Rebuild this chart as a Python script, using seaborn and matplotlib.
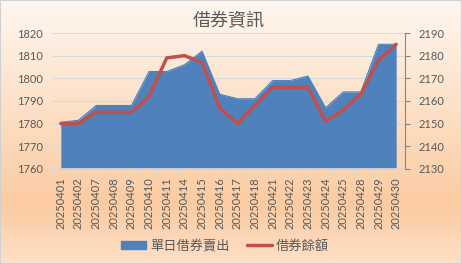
import numpy as np
import pandas as pd
import matplotlib
matplotlib.use('Agg')
import matplotlib.pyplot as plt
import seaborn as sns
from matplotlib.colors import LinearSegmentedColormap
from matplotlib.patches import Patch, Rectangle
from matplotlib.lines import Line2D

# ---- data ----
dates = ['20250401', '20250402', '20250407', '20250408', '20250409', '20250410',
         '20250411', '20250414', '20250415', '20250416', '20250417', '20250418',
         '20250421', '20250422', '20250423', '20250424', '20250425', '20250428',
         '20250429', '20250430']
short_sell = [1780.6, 1781.5, 1788, 1788, 1788, 1803, 1803, 1806, 1812, 1793,
              1791, 1791, 1799, 1799, 1801, 1787, 1794, 1794, 1815, 1815]
balance = [2150, 2150, 2155, 2155, 2155, 2162, 2179, 2180, 2177, 2157,
           2150, 2158, 2166, 2166, 2166, 2151, 2156, 2163, 2178, 2185]
left_ticks = [1760, 1770, 1780, 1790, 1800, 1810, 1820]
right_ticks = [2130, 2140, 2150, 2160, 2170, 2180, 2190]
title = '借券資訊'
series_names = ['單日借券賣出', '借券餘額']

BLUE = '#4F81BD'
RED = '#C0504D'
TXT = '#595959'

sns.set_theme(style='white')
plt.rcParams['font.family'] = ['Lato', 'Noto Sans CJK TC', 'DejaVu Sans']

fig = plt.figure(figsize=(4.62, 2.64), dpi=100)

# background gradient
cmap = LinearSegmentedColormap.from_list(
    'peach', [(0.0, '#FEF7F0'), (0.78, '#FBCBA1'), (1.0, '#FDE0C8')])
bg = fig.add_axes([0, 0, 1, 1], zorder=-10)
bg.imshow(np.linspace(0, 1, 256).reshape(-1, 1), aspect='auto', cmap=cmap,
          extent=[0, 1, 0, 1], origin='upper')
bg.axis('off')
fig.patches.append(Rectangle((0, 0), 1, 1, transform=fig.transFigure, fill=False,
                             edgecolor='#D0D0D0', lw=1.5))

df = pd.DataFrame({'pos': np.arange(len(dates)), 'date': dates,
                   'sell': short_sell, 'bal': balance})

ax = fig.add_axes([0.1126, 0.36, 0.764, 0.515])
ax.patch.set_alpha(0)
sns.lineplot(data=df, x='pos', y='sell', ax=ax, color=BLUE, lw=0.8)
ax.fill_between(df['pos'], df['sell'], left_ticks[0], color=BLUE, lw=0)
ax.set_ylim(left_ticks[0], left_ticks[-1])
ax.set_yticks(left_ticks)
ax.set_xlim(-0.5, len(dates) - 0.5)
ax.set_xticks(df['pos'])
ax.set_xticklabels(dates, rotation=90)
ax.set_xticks(np.arange(len(dates) + 1) - 0.5, minor=True)
ax.grid(axis='y', color='#D9D9D9', lw=0.75)
ax.set_axisbelow(True)
ax.set_xlabel('')
ax.set_ylabel('')
for s in ['left', 'top', 'right']:
    ax.spines[s].set_visible(False)
ax.spines['bottom'].set_color('#D9D9D9')
ax.tick_params(axis='y', length=0, pad=6.5, labelsize=8, labelcolor=TXT)
ax.tick_params(axis='x', which='major', length=0, pad=6, labelsize=8, labelcolor=TXT)
ax.tick_params(axis='x', which='minor', length=3.5, color='#D9D9D9', width=0.8, bottom=True)

ax2 = ax.twinx()
ax2.patch.set_alpha(0)
sns.lineplot(data=df, x='pos', y='bal', ax=ax2, color=RED, lw=2.5)
ax2.set_ylim(right_ticks[0], right_ticks[-1])
ax2.set_yticks(right_ticks)
ax2.set_xlim(-0.5, len(dates) - 0.5)
ax2.set_xlabel('')
ax2.set_ylabel('')
for s in ['left', 'top', 'bottom']:
    ax2.spines[s].set_visible(False)
ax2.spines['right'].set_color('#868686')
ax2.spines['right'].set_linewidth(0.8)
ax2.tick_params(axis='y', direction='out', length=3.5, width=0.8, color='#868686',
                pad=6, labelsize=8, labelcolor=TXT)

fig.text(0.496, 1 - 21 / 264, title, ha='center', va='center', fontsize=13, color=TXT)

handles = [Patch(facecolor=BLUE, edgecolor=BLUE, label=series_names[0]),
           Line2D([], [], color=RED, lw=2.5, label=series_names[1])]
leg = fig.legend(handles=handles, loc='center', bbox_to_anchor=(0.487, 1 - 245 / 264),
                 ncol=2, frameon=False, fontsize=9.5, handlelength=1.9,
                 handleheight=0.55, columnspacing=1.3, handletextpad=0.3)
for t in leg.get_texts():
    t.set_color(TXT)

fig.savefig('out.png', dpi=100)
